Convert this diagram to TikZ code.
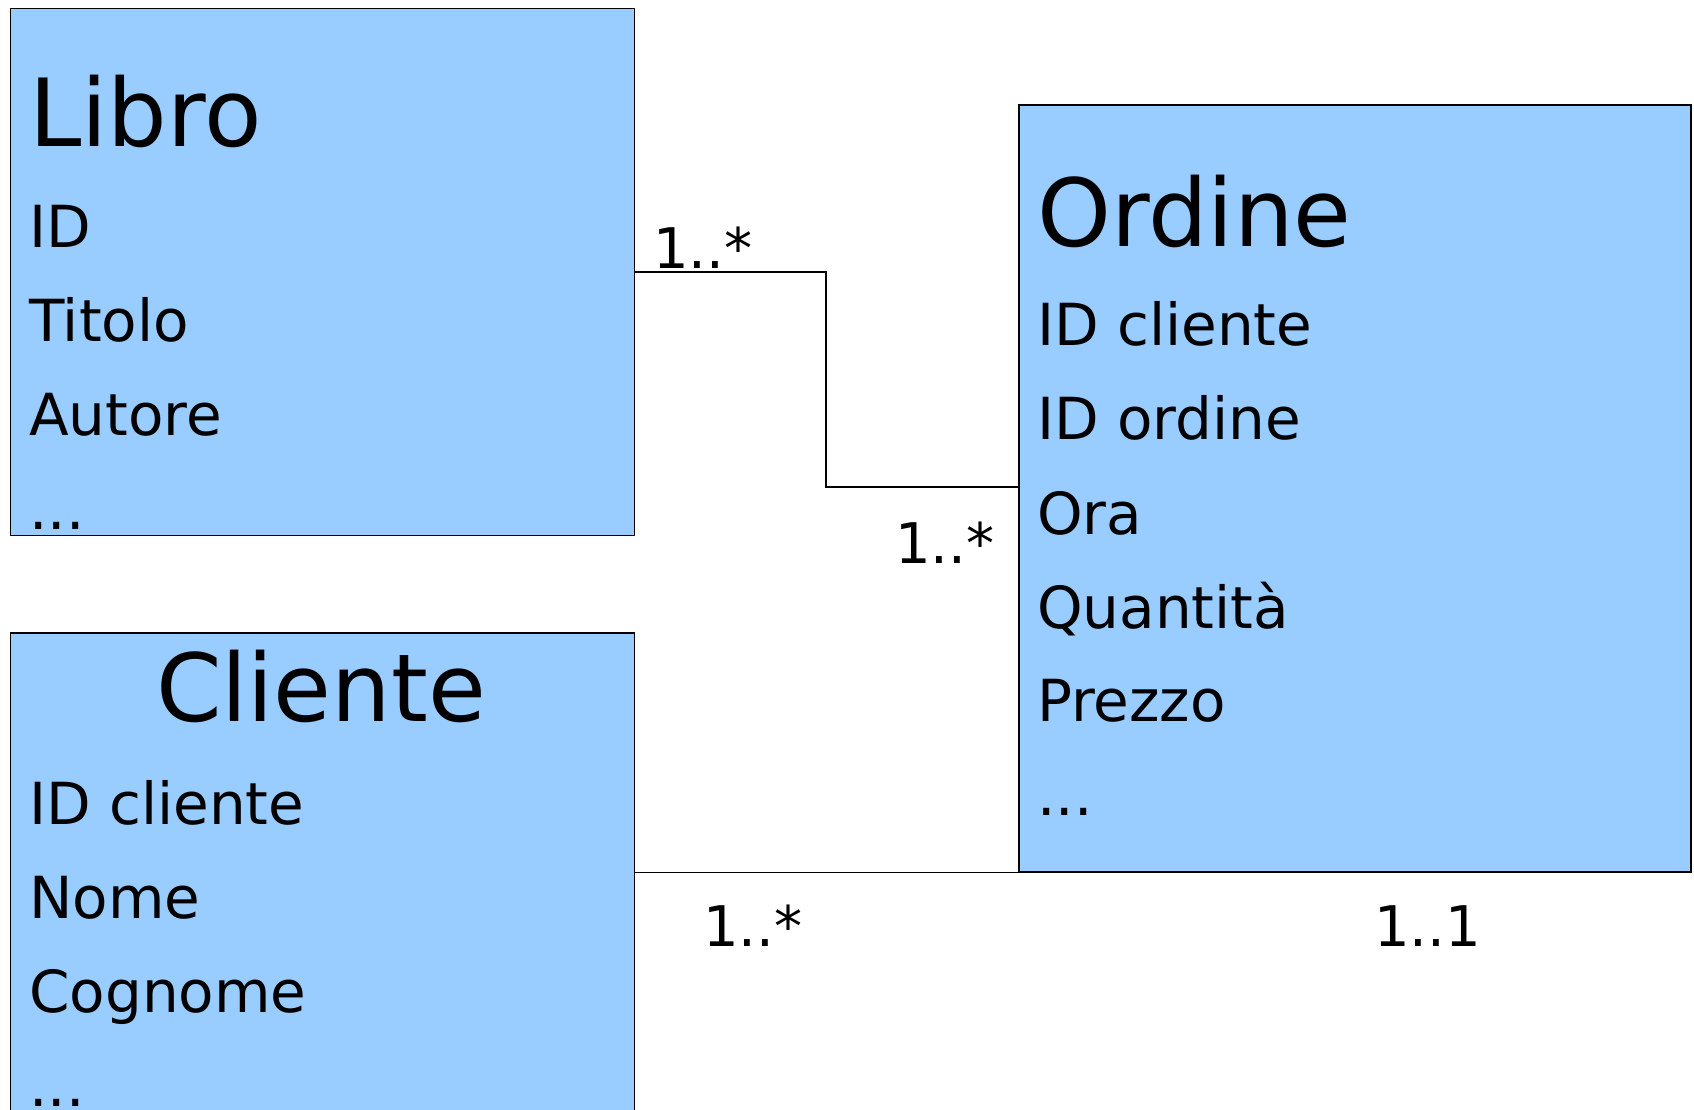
\documentclass[tikz,border=0pt]{standalone}
\usepackage{fontspec}
\setmainfont{DejaVu Sans}
\definecolor{boxblue}{HTML}{99CCFF}
\begin{document}
\begin{tikzpicture}[x=1pt,y=-1pt,
  entity/.style={draw=black,fill=boxblue,line width=1.6pt,rectangle,inner sep=0pt,anchor=north west},
  title/.style={anchor=base west,inner sep=0pt,font=\fontsize{94}{110}\selectfont},
  attr/.style={anchor=base west,inner sep=0pt,font=\fontsize{58}{70}\selectfont},
  mult/.style={anchor=base west,inner sep=0pt,font=\fontsize{56}{68}\selectfont},
  conn/.style={draw=black,line width=1.6pt}]
\useasboundingbox (0,0) rectangle (1694,1110);
\clip (0,0) rectangle (1694,1110);
% boxes
\node[entity,minimum width=624pt,minimum height=527pt] (libro) at (9.7,7.6) {};
\node[entity,minimum width=624pt,minimum height=520pt] (cliente) at (9.7,632) {};
\node[entity,minimum width=672pt,minimum height=767pt] (ordine) at (1018,104) {};
% Libro
\node[title] (tl) at (29,147) {Libro};
\node[attr] (l1) at (29,247.4) {ID};
\node[attr] (l2) at (29,341.4) {Titolo};
\node[attr] (l3) at (29,435.4) {Autore};
\node[attr] (l4) at (29,529.4) {...};
% Cliente
\node[anchor=base,inner sep=0pt,font=\fontsize{94}{110}\selectfont] (tc) at (321,721.7) {Cliente};
\node[attr] (c1) at (29,824.3) {ID cliente};
\node[attr] (c2) at (29,918.3) {Nome};
\node[attr] (c3) at (29,1012.3) {Cognome};
\node[attr] (c4) at (29,1106) {...};
% Ordine
\node[title] (to) at (1037,246.3) {Ordine};
\node[attr] (o1) at (1037,345.7) {ID cliente};
\node[attr] (o2) at (1037,439.7) {ID ordine};
\node[attr] (o3) at (1037,534.8) {Ora};
\node[attr] (o4) at (1037,628.8) {Quantità};
\node[attr] (o5) at (1037,721.7) {Prezzo};
\node[attr] (o6) at (1037,815.7) {...};
% connectors
\coordinate (k1) at (826,272);
\coordinate (k2) at (826,487);
\draw[conn] (libro.east |- k1) -- (k1) -- (k2) -- (ordine.west |- k2);
\draw[conn] (cliente.east |- ordine.south west) -- (ordine.south west);
% multiplicities
\node[mult] (m1) at (653,268) {1..*};
\node[mult] (m2) at (895,563) {1..*};
\node[mult] (m3) at (703,946.4) {1..*};
\node[mult] (m4) at (1374,946.4) {1..1};
\end{tikzpicture}
\end{document}
